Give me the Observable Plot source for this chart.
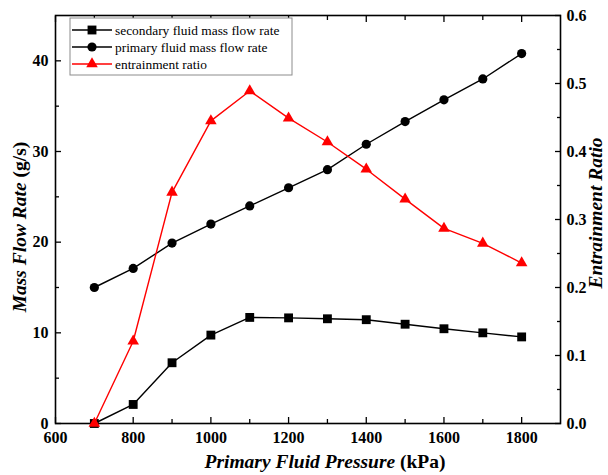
<!DOCTYPE html>
<html>
<head>
<meta charset="utf-8">
<script src="https://cdn.jsdelivr.net/npm/d3@7"></script>
<script src="https://cdn.jsdelivr.net/npm/@observablehq/plot@0.6"></script>
<style>
  html, body { margin: 0; padding: 0; background: #fff; }
  #chart svg { display: block; }
</style>
</head>
<body>
<div id="chart"></div>
<script>
// Primary fluid pressure (kPa)
const pressure = [700, 800, 900, 1000, 1100, 1200, 1300, 1400, 1500, 1600, 1700, 1800];
// Secondary fluid mass flow rate (g/s)
const secondaryFlow = [0, 2.1, 6.7, 9.75, 11.7, 11.65, 11.55, 11.45, 10.95, 10.45, 10.0, 9.55];
// Primary fluid mass flow rate (g/s)
const primaryFlow = [15.0, 17.1, 19.9, 22.0, 24.0, 26.0, 28.0, 30.8, 33.3, 35.7, 38.0, 40.8];
// Entrainment ratio (right axis)
const entrainment = [0, 0.121, 0.34, 0.445, 0.489, 0.449, 0.414, 0.374, 0.33, 0.287, 0.265, 0.236];

const xMajor = [600, 800, 1000, 1200, 1400, 1600, 1800];
const xMinor = [700, 900, 1100, 1300, 1500, 1700];
const yMajor = [0, 10, 20, 30, 40];
const yMinor = [5, 15, 25, 35];
const ratioMajor = [0, 0.1, 0.2, 0.3, 0.4, 0.5, 0.6];
const ratioMinor = [0.05, 0.15, 0.25, 0.35, 0.45, 0.55];

// The right axis (0–0.6) shares the left scale (0–45 g/s)
const RATIO_K = 45 / 0.6;

const rows = pressure.map((p, i) => ({
  p,
  secondary: secondaryFlow[i],
  primary: primaryFlow[i],
  ratio: entrainment[i]
}));

const serif = "'Liberation Serif', 'Times New Roman', serif";
const tickText = {fontFamily: serif, fontSize: 16, fontWeight: "bold"};
const noText = {tickFormat: () => "", label: null};

const R = {square: 5, circle: 4.6, triangle: 4.3};

const chart = Plot.plot({
  width: 608,
  height: 475,
  marginLeft: 55,
  marginRight: 48,
  marginTop: 15,
  marginBottom: 52,
  style: {fontFamily: serif, background: "#fff", color: "#000"},
  x: {domain: [600, 1900]},
  y: {domain: [0, 45]},
  marks: [
    // bottom axis
    Plot.axisX({ticks: xMajor, tickFormat: d => String(d), tickSize: -6, tickPadding: 14, label: null, strokeWidth: 1.3, ...tickText}),
    Plot.axisX({ticks: xMinor, tickSize: -4, strokeWidth: 1.3, ...noText}),
    // top axis
    Plot.axisX({anchor: "top", ticks: xMajor, tickSize: -6, strokeWidth: 1.3, ...noText}),
    Plot.axisX({anchor: "top", ticks: xMinor, tickSize: -4, strokeWidth: 1.3, ...noText}),
    // left axis
    Plot.axisY({ticks: yMajor, tickFormat: d => String(d), tickSize: -6, tickPadding: 13, label: null, strokeWidth: 1.3, ...tickText}),
    Plot.axisY({ticks: yMinor, tickSize: -4, strokeWidth: 1.3, ...noText}),
    // right axis (entrainment ratio)
    Plot.axisY({
      anchor: "right",
      ticks: ratioMajor.map(v => v * RATIO_K),
      tickFormat: d => (d / RATIO_K).toFixed(1),
      tickSize: -6, tickPadding: 12, label: null, strokeWidth: 1.3, ...tickText
    }),
    Plot.axisY({anchor: "right", ticks: ratioMinor.map(v => v * RATIO_K), tickSize: -4, strokeWidth: 1.3, ...noText}),
    Plot.frame({stroke: "#000", strokeWidth: 1.6}),

    // primary fluid mass flow rate
    Plot.line(rows, {x: "p", y: "primary", stroke: "#000", strokeWidth: 1.4}),
    Plot.dot(rows, {x: "p", y: "primary", symbol: "circle", r: R.circle, fill: "#000", stroke: "none"}),

    // secondary fluid mass flow rate
    Plot.line(rows, {x: "p", y: "secondary", stroke: "#000", strokeWidth: 1.4}),
    Plot.dot(rows, {x: "p", y: "secondary", symbol: "square", r: R.square, fill: "#000", stroke: "none"}),

    // entrainment ratio on the right-hand scale
    Plot.line(rows, {x: "p", y: d => d.ratio * RATIO_K, stroke: "#ff0000", strokeWidth: 1.4}),
    Plot.dot(rows, {x: "p", y: d => d.ratio * RATIO_K, symbol: "triangle", r: R.triangle, fill: "#ff0000", stroke: "none"})
  ]
});

document.getElementById("chart").appendChild(chart);

const svg = d3.select(chart);

// Axis titles with mixed italic / upright parts
function title(sel, italic, upright) {
  sel.attr("font-family", serif).attr("font-weight", "bold").attr("font-size", 19.5)
    .attr("text-anchor", "middle").attr("fill", "#000");
  sel.append("tspan").attr("font-style", "italic").text(italic);
  if (upright) sel.append("tspan").text(upright);
}

svg.append("text")
  .attr("transform", "translate(325,468)")
  .call(title, "Primary Fluid Pressure", " (kPa)");

svg.append("text")
  .attr("transform", "translate(26,227) rotate(-90)")
  .call(title, "Mass Flow Rate", " (g/s)");

svg.append("text")
  .attr("transform", "translate(602,213) rotate(-90)")
  .call(title, "Entrainment Ratio", "");

// Legend
const legendItems = [
  {label: "secondary fluid mass flow rate", color: "#000", symbol: d3.symbolSquare, r: R.square},
  {label: "primary fluid mass flow rate", color: "#000", symbol: d3.symbolCircle, r: R.circle},
  {label: "entrainment ratio", color: "#ff0000", symbol: d3.symbolTriangle, r: R.triangle}
];

const legend = svg.append("g").attr("transform", "translate(70,18)");
legend.append("rect")
  .attr("width", 222).attr("height", 57)
  .attr("fill", "#fff").attr("stroke", "#8c8c8c").attr("stroke-width", 1);

const item = legend.selectAll("g.item").data(legendItems).join("g")
  .attr("class", "item")
  .attr("transform", (d, i) => `translate(0,${12 + i * 17})`);

item.append("line")
  .attr("x1", 2).attr("x2", 42)
  .attr("stroke", d => d.color).attr("stroke-width", 1.4);
item.append("path")
  .attr("transform", "translate(22,0)")
  .attr("d", d => d3.symbol(d.symbol, Math.PI * d.r * d.r)())
  .attr("fill", d => d.color);
item.append("text")
  .attr("x", 45).attr("dy", "0.35em")
  .attr("text-anchor", "start")
  .attr("font-family", serif).attr("font-size", 13.4).attr("fill", "#000")
  .text(d => d.label);
</script>
</body>
</html>
